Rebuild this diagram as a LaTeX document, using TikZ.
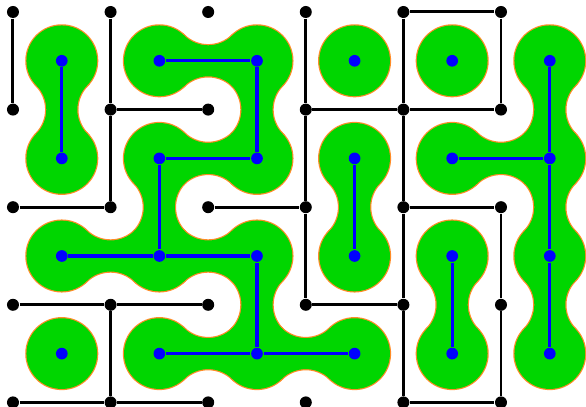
\documentclass[tikz,border=0pt]{standalone}
\usepackage{xcolor}
\usepackage{tikz}
\usetikzlibrary{calc,backgrounds}

\definecolor{blobgreen}{RGB}{0,214,0}
\definecolor{blobrim}{RGB}{255,140,40}

% cell links (blue tree) and maze walls (black)
\newcommand\bluelinks{b-0-0/b-0-1, b-1-0/b-2-0, b-2-0/b-2-1, b-1-1/b-2-1,
  b-1-1/b-1-2, b-0-2/b-1-2, b-1-2/b-2-2, b-2-2/b-2-3, b-1-3/b-2-3,
  b-2-3/b-3-3, b-3-1/b-3-2, b-4-1/b-5-1, b-5-0/b-5-1, b-5-1/b-5-2,
  b-5-2/b-5-3, b-4-2/b-4-3}
\newcommand\mazewalls{k-0-0/k-0-1, k-1-0/k-1-1, k-1-1/k-1-2, k-1-1/k-2-1,
  k-0-2/k-1-2, k-3-0/k-3-1, k-3-1/k-3-2, k-3-2/k-3-3, k-2-2/k-3-2,
  k-3-3/k-4-3, k-3-1/k-4-1, k-4-1/k-5-1, k-4-0/k-5-0, k-5-0/k-5-1,
  k-4-0/k-4-1, k-4-1/k-4-2, k-4-2/k-4-3, k-4-3/k-4-4, k-4-2/k-5-2,
  k-5-2/k-5-3, k-5-3/k-5-4, k-4-4/k-5-4, k-0-3/k-1-3, k-1-3/k-2-3,
  k-1-3/k-1-4, k-0-4/k-1-4, k-1-4/k-2-4}

% one pass of the green blobs: discs plus a waisted neck per link
\newcommand\blobpass[1]{%
  \foreach \i in {0,...,5}
    \foreach \j in {0,...,3}
      \path[#1] (b-\i-\j.center) circle[radius=0.362];
  \foreach \ea/\eb in \bluelinks {
    \path ($(\ea.center)!0.251!(\eb.center)$) coordinate (p)
          ($(\ea.center)!0.749!(\eb.center)$) coordinate (q);
    \path[#1] ($(p)!0.26cm!90:(\eb.center)$) to[bend right=44] ($(q)!0.26cm!90:(\eb.center)$)
      -- ($(q)!0.26cm!-90:(\eb.center)$) to[bend right=44] ($(p)!0.26cm!-90:(\eb.center)$) -- cycle;
  }
}

\begin{document}
\begin{tikzpicture}[
  knot/.style={circle,fill=black,inner sep=0pt,minimum size=0.123cm},
  bead/.style={circle,fill=blue,inner sep=0pt,minimum size=0.12cm},
  wall/.style={draw=black,line width=0.87pt},
  link/.style={draw=blue,line width=0.95pt},
  blobrimmed/.style={fill=blobrim,draw=blobrim,line width=0.7pt},
  blobfill/.style={fill=blobgreen}
]
  \useasboundingbox (-0.133,0.123) rectangle (5.871,-4.047);

  % grid points and cell centres
  \foreach \i in {0,...,5}
    \foreach \j in {0,...,4}
      \node[knot] (k-\i-\j) at (\i,-\j) {};
  \foreach \i in {0,...,5}
    \foreach \j in {0,...,3}
      \node[bead] (b-\i-\j) at (\i+0.5,-\j-0.5) {};

  \begin{scope}[on background layer]
    \blobpass{blobrimmed}
    \blobpass{blobfill}
  \end{scope}

  \foreach \ea/\eb in \mazewalls
    \draw[wall] (\ea) -- (\eb);
  \foreach \ea/\eb in \bluelinks
    \draw[link] (\ea) -- (\eb);
\end{tikzpicture}
\end{document}
